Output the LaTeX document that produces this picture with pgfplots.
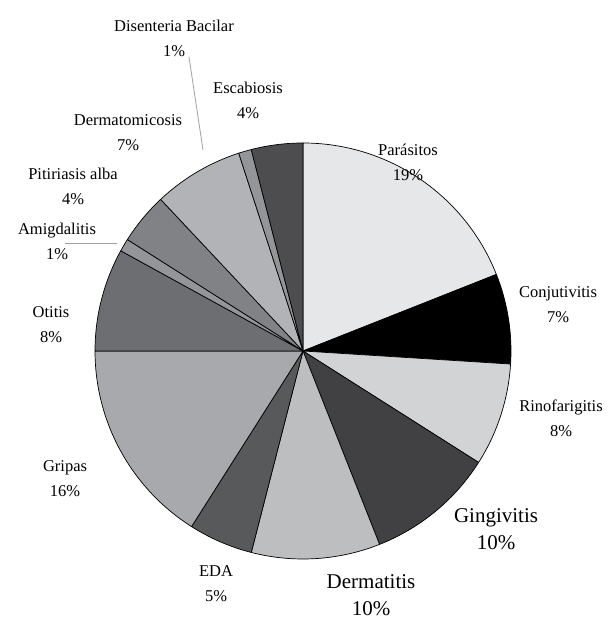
\documentclass[border=0pt]{standalone}
\usepackage{pgfplots}
\usepackage{pgfplotstable}
\pgfplotsset{compat=1.18}
\usepackage{fontspec}
\setmainfont{Liberation Serif}

\definecolor{sl0}{HTML}{E6E7E8}
\definecolor{sl1}{HTML}{000000}
\definecolor{sl2}{HTML}{D1D3D4}
\definecolor{sl3}{HTML}{414042}
\definecolor{sl4}{HTML}{BCBEC0}
\definecolor{sl5}{HTML}{58595B}
\definecolor{sl6}{HTML}{A7A9AC}
\definecolor{sl7}{HTML}{6D6E71}
\definecolor{sl8}{HTML}{939598}
\definecolor{sl9}{HTML}{808285}
\definecolor{sl10}{HTML}{B1B3B6}
\definecolor{sl11}{HTML}{939598}
\definecolor{sl12}{HTML}{4D4D4F}
\definecolor{leader}{HTML}{A0A0A0}

% slices, clockwise from 12 o'clock
\pgfplotstableread[col sep=comma]{
name,pct
Parasitos,19
Conjutivitis,7
Rinofarigitis,8
Gingivitis,10
Dermatitis,10
EDA,5
Gripas,16
Otitis,8
Amigdalitis,1
Pitiriasis alba,4
Dermatomicosis,7
Disenteria Bacilar,1
Escabiosis,4
}\piedata

\newcommand\lblfont{\fontsize{16.5bp}{25bp}\selectfont}
\newcommand\bigfont{\fontsize{21bp}{27bp}\selectfont}

\begin{document}
\begin{tikzpicture}
\pgfmathsetmacro\cum{0}
\pgfplotsforeachungrouped \i in {0,...,12}{%
  \pgfplotstablegetelem{\i}{pct}\of\piedata
  \pgfmathsetmacro\s{90-3.6*\cum}%
  \pgfmathsetmacro\cum{\cum+\pgfplotsretval}%
  \pgfmathsetmacro\e{90-3.6*\cum}%
  \expandafter\xdef\csname sa\i\endcsname{\s}%
  \expandafter\xdef\csname ea\i\endcsname{\e}%
}
\begin{axis}[
  width=615bp, height=619bp, scale only axis,
  xmin=0, xmax=615, ymin=0, ymax=619,
  hide axis, clip=false,
]
\addplot[draw=none] coordinates {(0,0) (615,619)};
\pgfplotsinvokeforeach{0,...,12}{
  \filldraw[fill=sl#1, draw=black, line width=0.7bp, line join=round]
    (axis cs:303,268) -- ([shift={(\csname sa#1\endcsname:208bp)}]axis cs:303,268)
    arc[start angle=\csname sa#1\endcsname, end angle=\csname ea#1\endcsname, radius=208bp] -- cycle;
}
% leader lines
\draw[leader, line width=0.8bp] (axis cs:189,562) -- (axis cs:203,469);
\draw[leader, line width=0.8bp] (axis cs:65,376) -- (axis cs:117,376);
% labels
\node[align=center, font=\lblfont] at (axis cs:174,581) {Disenteria Bacilar\\1\%};
\node[align=center, font=\lblfont] at (axis cs:248,519) {Escabiosis\\4\%};
\node[align=center, font=\lblfont] at (axis cs:128,486) {Dermatomicosis\\7\%};
\node[align=center, font=\lblfont] at (axis cs:408,457) {Parásitos\\19\%};
\node[align=center, font=\lblfont] at (axis cs:73,433) {Pitiriasis alba\\4\%};
\node[align=center, font=\lblfont] at (axis cs:57,378) {Amigdalitis\\1\%};
\node[align=center, font=\lblfont] at (axis cs:51,294) {Otitis\\8\%};
\node[align=center, font=\lblfont] at (axis cs:558,314) {Conjutivitis\\7\%};
\node[align=center, font=\lblfont] at (axis cs:561,201) {Rinofarigitis\\8\%};
\node[align=center, font=\lblfont] at (axis cs:65,140) {Gripas\\16\%};
\node[align=center, font=\bigfont] at (axis cs:496,90) {Gingivitis\\10\%};
\node[align=center, font=\lblfont] at (axis cs:216,35) {EDA\\5\%};
\node[align=center, font=\bigfont] at (axis cs:371,24) {Dermatitis\\10\%};
\end{axis}
\end{tikzpicture}
\end{document}
